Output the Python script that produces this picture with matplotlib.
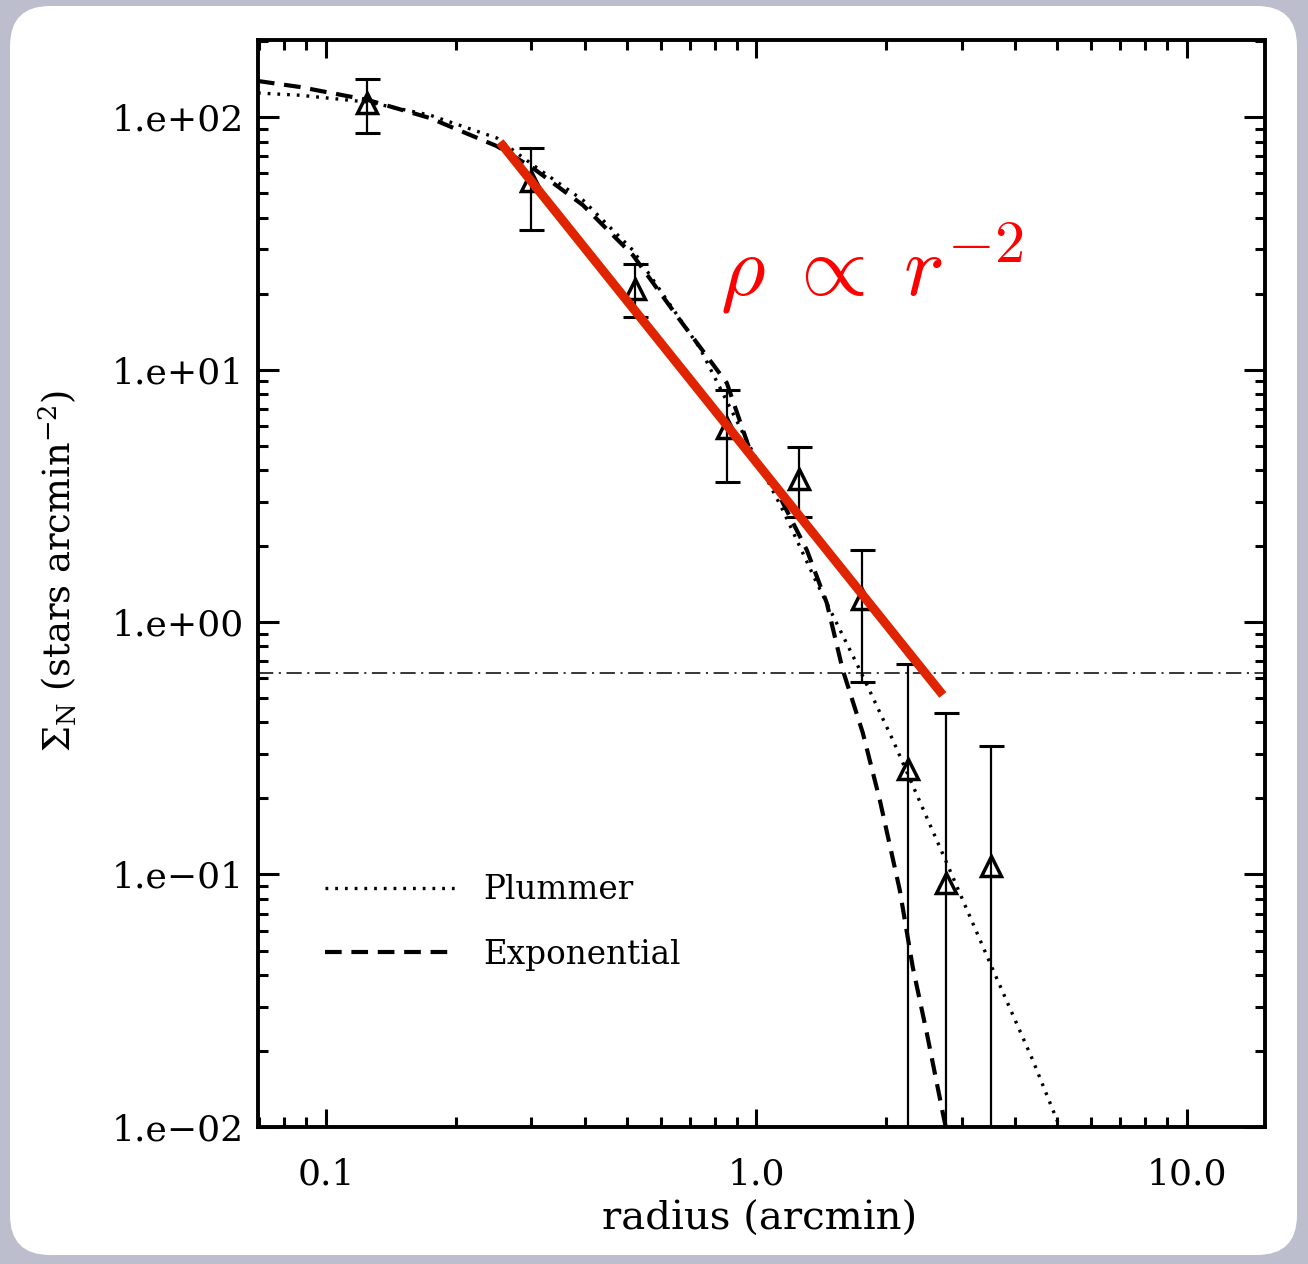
# Surface density profile of the cluster with Plummer / exponential fits
import matplotlib
matplotlib.use("Agg")
import numpy as np
import matplotlib.pyplot as plt
from matplotlib.patches import FancyBboxPatch
from matplotlib.ticker import LogLocator, NullFormatter

# measured radial profile (radius in arcmin, stars per arcmin^2)
radius = [0.1245, 0.299, 0.522, 0.854, 1.257, 1.761, 2.253, 2.754, 3.512]
sigma = [114.1, 55.8, 20.8, 5.86, 3.68, 1.233, 0.262, 0.0925, 0.108]
sigma_hi = [141.4, 75.4, 26.2, 8.3, 4.93, 1.93, 0.682, 0.435, 0.323]
sigma_lo = [86.4, 35.6, 16.1, 3.58, 2.61, 0.578, 1e-4, 1e-4, 1e-4]

# model curves
plummer_r = [0.0695, 0.087, 0.1252, 0.1744, 0.2495, 0.3026, 0.3953, 0.5165,
             0.6196, 0.739, 0.9157, 1.152, 1.382, 1.74, 2.076, 2.77, 3.524,
             4.387, 5.07]
plummer_s = [124.5, 122.0, 114.6, 101.8, 82.6, 64.6, 46.9, 29.7,
             18.85, 12.17, 5.92, 2.777, 1.427, 0.6457, 0.3409, 0.111, 0.043,
             0.01842, 0.01]
expo_r = [0.0695, 0.087, 0.1252, 0.1744, 0.2495, 0.3026, 0.3953, 0.5165,
          0.6645, 0.854, 0.9659, 1.0921, 1.31, 1.458, 1.588, 1.768, 1.936,
          2.154, 2.309, 2.489, 2.712, 2.755]
expo_s = [138.9, 131.5, 116.8, 99.1, 76.7, 62.8, 44.8, 28.4,
          15.7, 8.84, 4.8, 3.553, 1.928, 1.189, 0.6457, 0.3634, 0.1972,
          0.0868, 0.043, 0.02357, 0.01136, 0.01]

# power-law guide and background level
slope_r = [0.2536, 2.712]
slope_s = [79.6, 0.514]
background = 0.63

ytick_vals = [1e2, 1e1, 1e0, 1e-1, 1e-2]
ytick_text = ["1.e+02", "1.e+01", "1.e+00", "1.e\u221201", "1.e\u221202"]
xtick_vals = [0.1, 1.0, 10.0]
xtick_text = ["0.1", "1.0", "10.0"]

plt.rcParams["font.family"] = ["DejaVu Serif"]
plt.rcParams["mathtext.fontset"] = "dejavuserif"
plt.rcParams["lines.scale_dashes"] = False

fig = plt.figure(figsize=(13.08, 12.64), dpi=100)
fig.patch.set_facecolor("#bcbecd")
# white rounded panel behind the plot (display pixels)
panel = FancyBboxPatch((10, 9), 1287, 1249, boxstyle="round,pad=0,rounding_size=40",
                       transform=None, facecolor="white", edgecolor="none", zorder=0)
fig.add_artist(panel)

ax = fig.add_axes([0.1972, 0.1084, 0.7699, 0.8600])
ax.set_zorder(1)
ax.set_facecolor("white")
ax.set_xscale("log")
ax.set_yscale("log")
ax.set_xlim(0.0695, 15.2)
ax.set_ylim(0.01, 202)

# models
ax.plot(plummer_r, plummer_s, color="k", lw=2.4, dashes=(2.0, 5.0), label="Plummer")
ax.plot(expo_r, expo_s, color="k", lw=3.0, dashes=(12, 7), label="Exponential")
ax.axhline(background, color="k", lw=1.1, dashes=(11, 4, 1.5, 4))

# data with error bars
yerr = [np.array(sigma) - np.array(sigma_lo), np.array(sigma_hi) - np.array(sigma)]
ax.errorbar(radius, sigma, yerr=yerr, fmt="none", ecolor="k", elinewidth=1.6,
            capsize=9, capthick=2.2, zorder=3)
ax.plot(radius, sigma, "^", ms=15, mfc="none", mec="k", mew=2.5, zorder=4)

# r^-2 guide
ax.plot(slope_r, slope_s, color="#e02400", lw=6.5, solid_capstyle="butt", zorder=5)
ax.text(0.4588, 0.7645, r"$\rho\;\propto\;r^{-2}$", transform=ax.transAxes,
        color="#ff0000", fontsize=62, va="baseline", ha="left", math_fontfamily="cm")

# ticks
ax.set_xticks(xtick_vals)
ax.set_xticklabels(xtick_text)
ax.set_yticks(ytick_vals)
ax.set_yticklabels(ytick_text)
ax.xaxis.set_minor_locator(LogLocator(base=10, subs=np.arange(2, 10), numticks=20))
ax.yaxis.set_minor_locator(LogLocator(base=10, subs=np.arange(2, 10), numticks=20))
ax.xaxis.set_minor_formatter(NullFormatter())
ax.yaxis.set_minor_formatter(NullFormatter())
ax.tick_params(which="both", direction="in", top=True, right=True, width=2.2)
ax.tick_params(axis="x", which="major", length=13, pad=22, labelsize=26)
ax.tick_params(axis="x", which="minor", length=7)
ax.tick_params(axis="y", which="major", length=15, pad=10, labelsize=26)
ax.tick_params(axis="y", which="minor", length=7)
for s in ax.spines.values():
    s.set_linewidth(2.8)

ax.set_xlabel("radius (arcmin)", fontsize=29)
ax.xaxis.set_label_coords(0.498, -0.068)
ax.set_ylabel(r"$\Sigma_{\mathrm{N}}$ (stars arcmin$^{-2}$)", fontsize=26.5)
ax.yaxis.set_label_coords(-0.178, 0.5115)

ax.legend(loc="upper left", bbox_to_anchor=(0.0665, 0.2327), frameon=False,
          borderpad=0, borderaxespad=0, handlelength=4.0, handletextpad=0.85,
          labelspacing=1.0, fontsize=23.5)

fig.savefig("out.png", dpi=100, facecolor=fig.get_facecolor())
